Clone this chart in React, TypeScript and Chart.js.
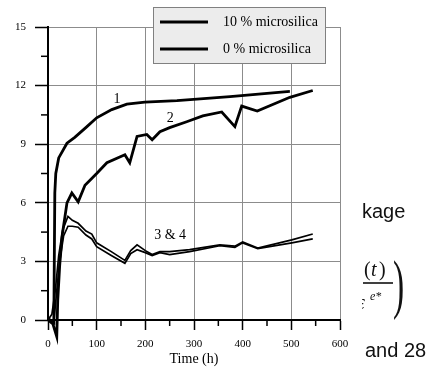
import React, { useEffect, useRef } from "react";
import { Chart, registerables } from "chart.js";
Chart.register(...registerables);

// ---- data (Time in h, shrinkage values) ----
const curve1Time = [0, 8, 12, 14, 16, 22, 39, 55, 80, 100, 131, 162, 199, 265, 374, 497];
const curve1Value = [0.1, -0.1, -0.15, 6.5, 7.5, 8.3, 9.05, 9.35, 9.9, 10.35, 10.77, 11.05, 11.15, 11.23, 11.44, 11.7];

const curve2Time = [0, 10, 18, 20, 24, 29, 39, 49, 62, 76, 100, 121, 158, 168, 183, 203, 214, 230, 250, 285, 318, 357, 384, 398, 430, 497, 544];
const curve2Value = [0, -0.2, -0.85, 1.0, 2.8, 4.3, 6.0, 6.5, 6.05, 6.9, 7.5, 8.05, 8.46, 8.05, 9.4, 9.5, 9.23, 9.64, 9.85, 10.15, 10.45, 10.65, 9.9, 10.95, 10.7, 11.4, 11.75];

const curve3Time = [0, 8, 15, 22, 30, 41, 50, 62, 78, 90, 100, 130, 158, 170, 183, 200, 214, 230, 250, 291, 353, 384, 400, 431, 501, 544];
const curve3Value = [0, 0.3, 1.5, 3.3, 4.6, 5.3, 5.1, 4.95, 4.55, 4.4, 3.95, 3.5, 3.05, 3.55, 3.85, 3.55, 3.35, 3.5, 3.5, 3.6, 3.85, 3.78, 4.0, 3.68, 4.1, 4.4];

const curve4Time = [0, 12, 18, 24, 32, 41, 50, 62, 78, 90, 100, 130, 158, 170, 183, 200, 214, 230, 250, 291, 353, 384, 400, 431, 501, 544];
const curve4Value = [0, -0.1, 1.5, 3.0, 4.3, 4.8, 4.8, 4.75, 4.35, 4.15, 3.75, 3.3, 2.9, 3.4, 3.6, 3.45, 3.3, 3.45, 3.35, 3.5, 3.8, 3.72, 3.95, 3.65, 3.95, 4.15];

const xTickValues = [0, 100, 200, 300, 400, 500, 600];
const yTickValues = [0, 3, 6, 9, 12, 15];
const xMinorTicks = [50, 150, 250, 350, 450, 550];
const yMinorTicks = [1.5, 4.5, 7.5, 10.5, 13.5];

const legendLabels = ["10 % microsilica", "0 % microsilica"];
const curveLabelText = ["1", "2", "3 & 4"];
const curveLabelTime = [142, 251, 251];
const curveLabelValue = [11.3, 10.35, 4.36];

const SERIF = "'Liberation Serif', 'DejaVu Serif', serif";
const SANS = "'Liberation Sans', Arial, sans-serif";

const toPoints = (ts: number[], vs: number[]) => ts.map((t, i) => ({ x: t, y: vs[i] }));

const overlayPlugin = {
  id: "overlay",
  afterDraw(chart: any) {
    const { ctx, chartArea } = chart;
    const xs = chart.scales.x;
    const ys = chart.scales.y;
    ctx.save();
    // minor ticks
    ctx.strokeStyle = "#000";
    ctx.lineWidth = 1.5;
    yMinorTicks.forEach((v) => {
      const py = ys.getPixelForValue(v);
      ctx.beginPath();
      ctx.moveTo(chartArea.left - 7, py);
      ctx.lineTo(chartArea.left, py);
      ctx.stroke();
    });
    xMinorTicks.forEach((t) => {
      const px = xs.getPixelForValue(t);
      ctx.beginPath();
      ctx.moveTo(px, chartArea.bottom);
      ctx.lineTo(px, chartArea.bottom + 6);
      ctx.stroke();
    });
    // curve labels
    ctx.fillStyle = "#000";
    ctx.font = `14px ${SERIF}`;
    ctx.textAlign = "center";
    ctx.textBaseline = "middle";
    curveLabelText.forEach((txt, i) => {
      ctx.fillText(txt, xs.getPixelForValue(curveLabelTime[i]), ys.getPixelForValue(curveLabelValue[i]));
    });
    // legend box
    ctx.fillStyle = "#ececec";
    ctx.fillRect(153, 7, 172, 56);
    ctx.strokeStyle = "#808080";
    ctx.lineWidth = 1;
    ctx.strokeRect(153.5, 7.5, 172, 56);
    const rowsY = [22, 49];
    ctx.strokeStyle = "#000";
    ctx.lineWidth = 3;
    rowsY.forEach((ry) => {
      ctx.beginPath();
      ctx.moveTo(160, ry);
      ctx.lineTo(208, ry);
      ctx.stroke();
    });
    ctx.fillStyle = "#000";
    ctx.font = `14px ${SERIF}`;
    ctx.textAlign = "left";
    ctx.textBaseline = "middle";
    legendLabels.forEach((lab, i) => ctx.fillText(lab, 223, rowsY[i]));

    // fragments of surrounding page text
    ctx.fillStyle = "#111";
    ctx.textBaseline = "alphabetic";
    ctx.font = `20px ${SANS}`;
    ctx.fillText("kage", 362, 218);
    ctx.fillText("and 28", 365, 357);
    ctx.font = `20px ${SERIF}`;
    ctx.fillText("(", 364, 276);
    ctx.font = `italic 20px ${SERIF}`;
    ctx.fillText("t", 371, 276);
    ctx.font = `20px ${SERIF}`;
    ctx.fillText(")", 379, 276);
    ctx.lineWidth = 1.5;
    ctx.beginPath();
    ctx.moveTo(363, 283);
    ctx.lineTo(393, 283);
    ctx.stroke();
    ctx.save();
    ctx.beginPath();
    ctx.rect(362, 285, 40, 30);
    ctx.clip();
    ctx.font = `italic 20px ${SERIF}`;
    ctx.fillText("ε", 357, 309);
    ctx.font = `italic 12px ${SERIF}`;
    ctx.fillText("e*", 370, 300);
    ctx.restore();
    ctx.save();
    ctx.translate(393, 0);
    ctx.scale(0.7, 1.35);
    ctx.font = `48px ${SERIF}`;
    ctx.fillText(")", 0, 227);
    ctx.restore();
    ctx.restore();
  },
};

export default function App() {
  const ref = useRef<HTMLCanvasElement | null>(null);
  useEffect(() => {
    if (!ref.current) return;
    const mk = (ts: number[], vs: number[], w: number) => ({
      data: toPoints(ts, vs),
      borderColor: "#000",
      backgroundColor: "#000",
      borderWidth: w,
      pointRadius: 0,
      tension: 0,
      fill: false,
      clip: false as any,
    });
    const chart = new Chart(ref.current, {
      type: "line",
      data: {
        datasets: [
          mk(curve1Time, curve1Value, 2.8),
          mk(curve2Time, curve2Value, 2.8),
          mk(curve3Time, curve3Value, 1.7),
          mk(curve4Time, curve4Value, 1.7),
        ],
      },
      options: {
        animation: false,
        responsive: false,
        events: [],
        layout: { padding: { top: 27, right: 88, left: 0, bottom: 0 } },
        plugins: { legend: { display: false }, tooltip: { enabled: false } },
        scales: {
          x: {
            type: "linear",
            min: 0,
            max: 600,
            afterBuildTicks: (s: any) => {
              s.ticks = xTickValues.map((v) => ({ value: v }));
            },
            afterFit: (s: any) => {
              s.height = 48;
            },
            grid: { color: "#8c8c8c", lineWidth: 1, tickLength: 10, tickColor: "#000", tickWidth: 1.5 },
            border: { display: true, color: "#000", width: 2 },
            ticks: { color: "#000", font: { family: SERIF, size: 11 }, padding: 8, maxRotation: 0 },
            title: { display: true, text: "Time (h)", color: "#000", font: { family: SERIF, size: 14 }, padding: { top: 0, bottom: 0 } },
          },
          y: {
            type: "linear",
            min: 0,
            max: 15,
            afterBuildTicks: (s: any) => {
              s.ticks = yTickValues.map((v) => ({ value: v }));
            },
            afterFit: (s: any) => {
              s.width = 48;
            },
            grid: { color: "#8c8c8c", lineWidth: 1, tickLength: 13, tickColor: "#000", tickWidth: 1.5 },
            border: { display: true, color: "#000", width: 2 },
            ticks: { color: "#000", font: { family: SERIF, size: 11 }, padding: 9 },
          },
        },
      },
      plugins: [overlayPlugin],
    } as any);
    return () => chart.destroy();
  }, []);
  return (
    <div style={{ position: "fixed", left: 0, top: 0, width: 428, height: 368, background: "#fff" }}>
      <canvas ref={ref} width={428} height={368} style={{ display: "block" }} />
    </div>
  );
}
